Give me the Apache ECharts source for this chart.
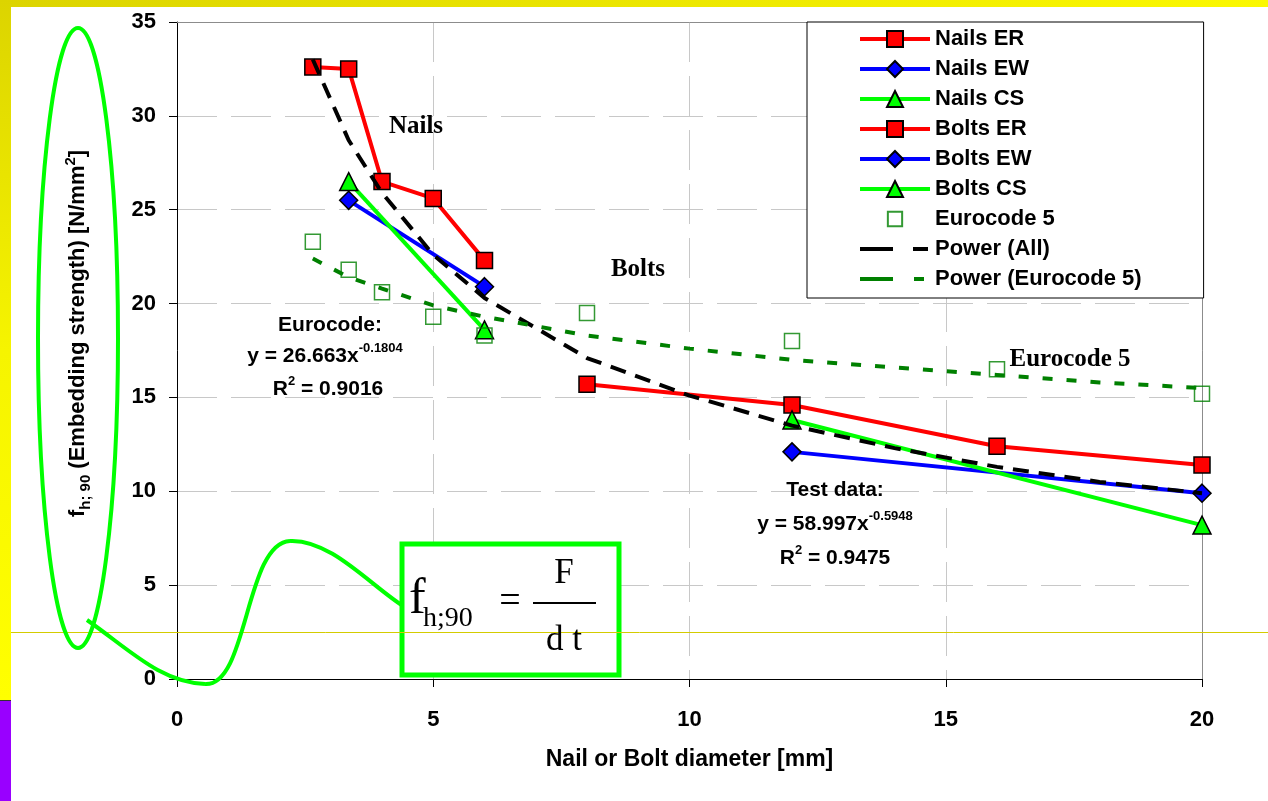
<!DOCTYPE html>
<html>
<head>
<meta charset="utf-8">
<script src="https://cdn.jsdelivr.net/npm/echarts@6/dist/echarts.min.js"></script>
<style>
html, body { margin: 0; padding: 0; background: #fff; }
#chart { width: 1268px; height: 801px; }
</style>
</head>
<body>
<div id="chart"></div>
<script>
// diameter [mm] -> embedding strength [N/mm2]
const nailsErX = [2.65, 3.35, 4, 5, 6];
const nailsErY = [32.6, 32.5, 26.5, 25.6, 22.3];
const nailsEwX = [3.35, 6];
const nailsEwY = [25.5, 20.9];
const nailsCsX = [3.35, 6];
const nailsCsY = [26.5, 18.6];
const boltsErX = [8, 12, 16, 20];
const boltsErY = [15.7, 14.6, 12.4, 11.4];
const boltsEwX = [12, 20];
const boltsEwY = [12.1, 9.9];
const boltsCsX = [12, 20];
const boltsCsY = [13.8, 8.2];
const ec5X = [2.65, 3.35, 4, 5, 6, 8, 12, 16, 20];
const ec5Y = [23.3, 21.8, 20.6, 19.3, 18.3, 19.5, 18.0, 16.5, 15.2];
// trend lines as drawn
const powAllX = [2.65, 3.35, 4, 5, 6, 8, 10, 12, 14, 16, 18, 20];
const powAllY = [33.0, 28.7, 25.9, 22.6, 20.3, 17.1, 15.1, 13.5, 12.3, 11.3, 10.5, 9.9];
const powEcX = [2.65, 3.35, 4, 5, 6, 8, 10, 12, 14, 16, 18, 20];
const powEcY = [22.4, 21.4, 20.8, 19.9, 19.3, 18.3, 17.6, 17.0, 16.6, 16.2, 15.8, 15.5];

const xTicks = [0, 5, 10, 15, 20];
const yTicks = [0, 5, 10, 15, 20, 25, 30, 35];

const SANS = '"Liberation Sans", Arial, sans-serif';
const SERIF = '"Liberation Serif", "Times New Roman", serif';

function pairs(xs, ys) {
    return xs.map((x, i) => [x, ys[i]]);
}

function dataLine(name, xs, ys, color, symbol, size) {
    return {
        name: name,
        type: 'line',
        data: pairs(xs, ys),
        symbol: symbol,
        symbolSize: size,
        lineStyle: { color: color, width: 4 },
        itemStyle: { color: color, borderColor: '#000', borderWidth: 1.5 },
        z: 2
    };
}

const chart = echarts.init(document.getElementById('chart'));

const gridRule = { show: true, lineStyle: { color: '#c8c8c8', width: 1, type: [40, 14] } };
const labelFont = { fontFamily: SANS, fontWeight: 'bold', fontSize: 22, color: '#000' };
const eqRich = {
    b: { fontFamily: SANS, fontWeight: 'bold', fontSize: 21, lineHeight: 28, color: '#000' },
    s: { fontFamily: SANS, fontWeight: 'bold', fontSize: 13, lineHeight: 13, verticalAlign: 'top', color: '#000' }
};
const nameRich = {
    t: { fontFamily: SANS, fontWeight: 'bold', fontSize: 22, lineHeight: 30, color: '#000' },
    sub: { fontFamily: SANS, fontWeight: 'bold', fontSize: 15, lineHeight: 15, verticalAlign: 'bottom', color: '#000' },
    sup: { fontFamily: SANS, fontWeight: 'bold', fontSize: 15, lineHeight: 15, verticalAlign: 'top', color: '#000' }
};
const hidden = { color: 'rgba(0,0,0,0)', borderWidth: 0, opacity: 0 };

function note(x, y, text, font, z) {
    return {
        type: 'text', x: x, y: y, z: z || 20,
        style: {
            text: text, fill: '#000', font: font,
            align: 'center', verticalAlign: 'middle',
            textAlign: 'center', textVerticalAlign: 'middle'
        }
    };
}

function richNote(x, y, text) {
    return {
        type: 'text', x: x, y: y, z: 20,
        style: {
            text: text, rich: eqRich, fill: '#000',
            align: 'center', verticalAlign: 'middle',
            textAlign: 'center', textVerticalAlign: 'middle'
        }
    };
}

const option = {
    animation: false,
    backgroundColor: '#fff',
    grid: { left: 177, right: 66, top: 22, bottom: 122 },
    legend: {
        orient: 'vertical',
        left: 807,
        top: 22,
        padding: [6, 62, 8, 51],
        itemGap: 8,
        itemWidth: 70,
        itemHeight: 20,
        borderColor: '#000',
        borderWidth: 1,
        backgroundColor: '#fff',
        lineStyle: { width: 4 },
        textStyle: { fontFamily: SANS, fontWeight: 'bold', fontSize: 22, color: '#000' },
        data: [
            'Nails ER', 'Nails EW', 'Nails CS', 'Bolts ER', 'Bolts EW', 'Bolts CS',
            { name: 'Eurocode 5', icon: 'path://M-2,-2L-2,-2M12,12L12,12M0,0H10V10H0Z' },
            { name: 'Power (All)', itemStyle: hidden, lineStyle: { width: 4, type: [33, 20, 15, 100] } },
            { name: 'Power (Eurocode 5)', itemStyle: hidden, lineStyle: { width: 4, type: [33, 21, 10, 100] } }
        ]
    },
    xAxis: [{
        type: 'value',
        min: xTicks[0],
        max: xTicks[xTicks.length - 1],
        interval: 5,
        name: 'Nail or Bolt diameter [mm]',
        nameLocation: 'middle',
        nameGap: 69,
        nameTextStyle: { fontFamily: SANS, fontWeight: 'bold', fontSize: 23, color: '#000' },
        axisLine: { show: true, onZero: false, lineStyle: { color: '#000', width: 1 } },
        axisTick: { show: true, inside: false, length: 8, lineStyle: { color: '#000' } },
        axisLabel: Object.assign({ margin: 30 }, labelFont),
        splitLine: gridRule
    }, {
        type: 'value',
        position: 'top',
        min: 0, max: 20,
        axisLine: { show: true, onZero: false, lineStyle: { color: '#8c8c8c', width: 1 } },
        axisTick: { show: false },
        axisLabel: { show: false },
        splitLine: { show: false }
    }],
    yAxis: [{
        type: 'value',
        min: yTicks[0],
        max: yTicks[yTicks.length - 1],
        interval: 5,
        name: '{t|f}{sub|h; 90}{t| (Embedding strength) [N/mm}{sup|2}{t|]}',
        nameLocation: 'middle',
        nameRotate: 90,
        nameGap: 84,
        nameTextStyle: { rich: nameRich, padding: [0, 0, 0, 34] },
        axisLine: { show: true, onZero: false, lineStyle: { color: '#000', width: 1 } },
        axisTick: { show: true, inside: false, length: 8, lineStyle: { color: '#000' } },
        axisLabel: Object.assign({ margin: 21 }, labelFont),
        splitLine: gridRule
    }, {
        type: 'value',
        position: 'right',
        min: 0, max: 35,
        axisLine: { show: true, onZero: false, lineStyle: { color: '#8c8c8c', width: 1 } },
        axisTick: { show: false },
        axisLabel: { show: false },
        splitLine: { show: false }
    }],
    series: [
        dataLine('Nails ER', nailsErX, nailsErY, '#ff0000', 'rect', 16),
        dataLine('Nails EW', nailsEwX, nailsEwY, '#0000ff', 'diamond', 18),
        dataLine('Nails CS', nailsCsX, nailsCsY, '#00ff00', 'triangle', 18),
        dataLine('Bolts ER', boltsErX, boltsErY, '#ff0000', 'rect', 16),
        dataLine('Bolts EW', boltsEwX, boltsEwY, '#0000ff', 'diamond', 18),
        dataLine('Bolts CS', boltsCsX, boltsCsY, '#00ff00', 'triangle', 18),
        {
            name: 'Eurocode 5',
            type: 'scatter',
            data: pairs(ec5X, ec5Y),
            symbol: 'rect',
            symbolSize: 15,
            itemStyle: { color: 'rgba(255,255,255,0)', borderColor: '#008000', borderWidth: 1.5 },
            z: 2
        },
        {
            name: 'Power (All)',
            type: 'line',
            data: pairs(powAllX, powAllY),
            symbol: 'none',
            lineStyle: { color: '#000', width: 4, type: [16, 10] },
            itemStyle: { color: '#000' },
            z: 3
        },
        {
            name: 'Power (Eurocode 5)',
            type: 'line',
            data: pairs(powEcX, powEcY),
            symbol: 'none',
            lineStyle: { color: '#008000', width: 4, type: [10, 14] },
            itemStyle: { color: '#008000' },
            z: 3
        }
    ],
    graphic: [
        // slide frame
        { type: 'rect', z: 30, shape: { x: 0, y: 0, width: 1268, height: 7 },
          style: { fill: new echarts.graphic.LinearGradient(0, 0, 1, 0, [
              { offset: 0, color: '#dcd400' }, { offset: 1, color: '#fbf800' }]) } },
        { type: 'rect', z: 30, shape: { x: 0, y: 0, width: 11, height: 700 },
          style: { fill: new echarts.graphic.LinearGradient(0, 0, 0, 1, [
              { offset: 0, color: '#dcd400' }, { offset: 0.5, color: '#f6f400' }, { offset: 1, color: '#ffff00' }]) } },
        { type: 'rect', z: 30, shape: { x: 0, y: 700, width: 11, height: 101 },
          style: { fill: '#9900ff' } },
        { type: 'line', z: 30, shape: { x1: 0, y1: 700.5, x2: 11, y2: 700.5 },
          style: { stroke: '#333', lineWidth: 1 } },
        // formula box
        { type: 'rect', z: 10, shape: { x: 402, y: 544, width: 217, height: 131 },
          style: { fill: '#fff', stroke: '#00ff00', lineWidth: 5 } },
        { type: 'line', z: 12, shape: { x1: 11, y1: 632.5, x2: 1268, y2: 632.5 },
          style: { stroke: '#d4cc00', lineWidth: 1 } },
        {
            type: 'text', x: 409, y: 600, z: 13,
            style: { text: 'f', fill: '#000', font: '50px ' + SERIF,
                     align: 'left', verticalAlign: 'middle', textAlign: 'left', textVerticalAlign: 'middle' }
        },
        {
            type: 'text', x: 423, y: 619, z: 13,
            style: { text: 'h;90', fill: '#000', font: '28px ' + SERIF,
                     align: 'left', verticalAlign: 'middle', textAlign: 'left', textVerticalAlign: 'middle' }
        },
        note(510, 602, '=', '38px ' + SERIF, 13),
        { type: 'line', z: 13, shape: { x1: 533, y1: 603, x2: 596, y2: 603 },
          style: { stroke: '#000', lineWidth: 2 } },
        note(564, 574, 'F', '35px ' + SERIF, 13),
        note(564, 641, 'd t', '35px ' + SERIF, 13),
        // green callout
        { type: 'ellipse', z: 15, shape: { cx: 78, cy: 338, rx: 40, ry: 310 },
          style: { fill: 'none', stroke: '#00ff00', lineWidth: 4 } },
        { type: 'bezierCurve', z: 15,
          shape: { x1: 87, y1: 620, cpx1: 130, cpy1: 650, cpx2: 160, cpy2: 682, x2: 205, y2: 684 },
          style: { fill: 'none', stroke: '#00ff00', lineWidth: 4 } },
        { type: 'bezierCurve', z: 15,
          shape: { x1: 205, y1: 684, cpx1: 248, cpy1: 687, cpx2: 245, cpy2: 543, x2: 290, y2: 541 },
          style: { fill: 'none', stroke: '#00ff00', lineWidth: 4 } },
        { type: 'bezierCurve', z: 15,
          shape: { x1: 290, y1: 541, cpx1: 330, cpy1: 539, cpx2: 370, cpy2: 585, x2: 403, y2: 606 },
          style: { fill: 'none', stroke: '#00ff00', lineWidth: 4 } },
        // labels on the plot
        note(416, 127, 'Nails', 'bold 25px ' + SERIF),
        note(638, 270, 'Bolts', 'bold 25px ' + SERIF),
        note(1070, 360, 'Eurocode 5', 'bold 25px ' + SERIF),
        richNote(330, 325, '{b|Eurocode:}'),
        richNote(325, 356, '{b|y = 26.663x}{s|-0.1804}'),
        richNote(328, 389, '{b|R}{s|2}{b| = 0.9016}'),
        richNote(835, 490, '{b|Test data:}'),
        richNote(835, 524, '{b|y = 58.997x}{s|-0.5948}'),
        richNote(835, 558, '{b|R}{s|2}{b| = 0.9475}')
    ]
};

chart.setOption(option);
</script>
</body>
</html>
